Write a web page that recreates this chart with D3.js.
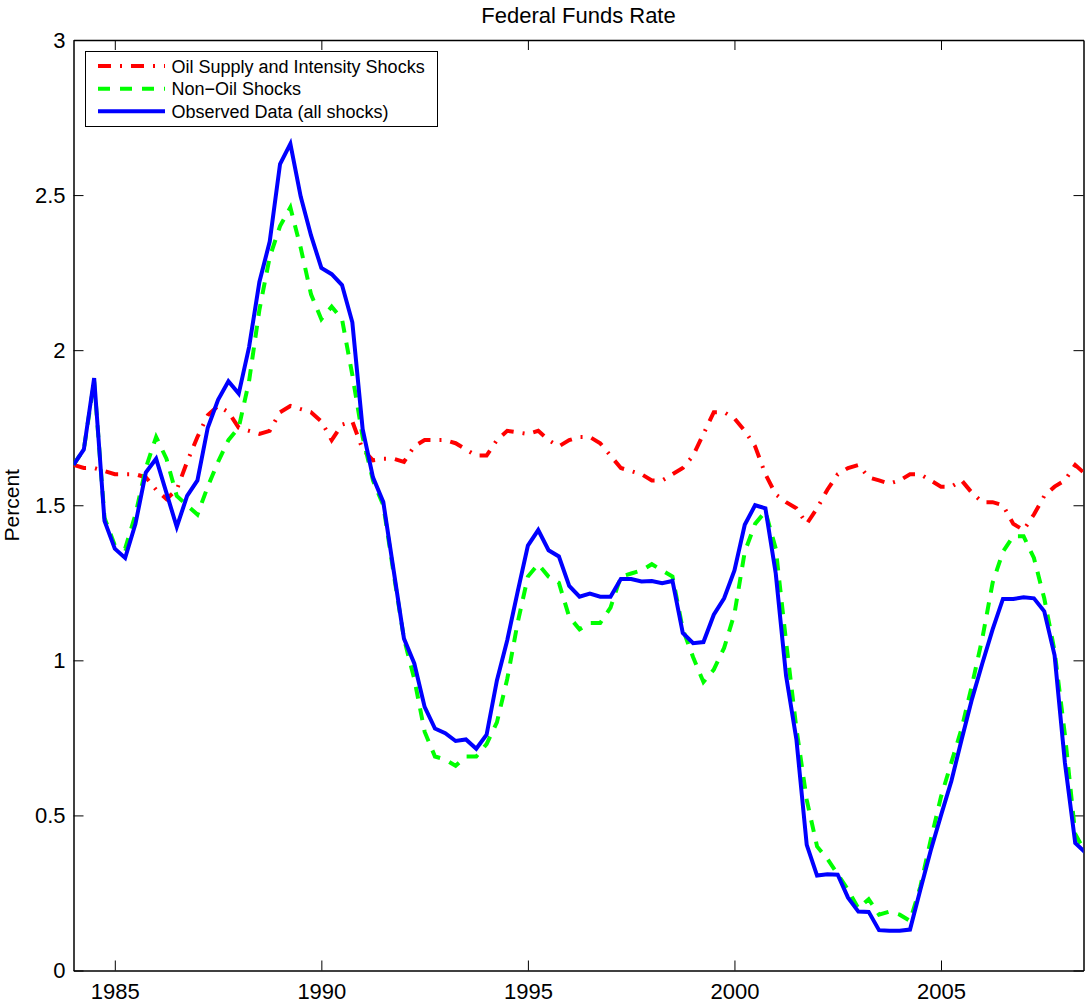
<!DOCTYPE html>
<html>
<head>
<meta charset="utf-8">
<script src="https://cdn.jsdelivr.net/npm/d3@7"></script>
<style>
  html, body { margin: 0; padding: 0; background: #fff; }
  svg { display: block; }
  text { font-family: "Liberation Sans", Arial, Helvetica, sans-serif; fill: #000; }
</style>
</head>
<body>
<svg id="chart" width="1086" height="1004"></svg>
<script>
// ---- Data (quarterly, starting 1984Q1) ----
const startYear = 1984;
const seriesNames = ["Oil Supply and Intensity Shocks", "Non\u2212Oil Shocks", "Observed Data (all shocks)"];
const oilShocks = [
  1.63,1.62,1.62,1.61, 1.60,1.60,1.60,1.59, 1.55,1.52,1.55,1.64, 1.72,1.79,1.82,1.80,
  1.75,1.74,1.73,1.74, 1.80,1.82,1.81,1.80, 1.77,1.71,1.76,1.77, 1.68,1.645,1.65,1.65,
  1.64,1.69,1.71,1.71, 1.71,1.70,1.68,1.66, 1.66,1.71,1.74,1.735, 1.73,1.74,1.71,1.69,
  1.71,1.72,1.72,1.70, 1.66,1.62,1.61,1.60, 1.58,1.58,1.60,1.62, 1.66,1.73,1.80,1.80,
  1.78,1.74,1.69,1.60, 1.535,1.51,1.49,1.44, 1.49,1.55,1.60,1.62, 1.63,1.59,1.58,1.57,
  1.58,1.60,1.60,1.58, 1.56,1.56,1.58,1.54, 1.51,1.51,1.50,1.44, 1.42,1.47,1.53,1.56,
  1.58,1.63,1.60
];
const nonOilShocks = [
  1.63,1.68,1.90,1.46, 1.37,1.36,1.47,1.62, 1.72,1.65,1.53,1.50, 1.47,1.56,1.64,1.71,
  1.75,1.90,2.13,2.30, 2.40,2.46,2.33,2.18, 2.10,2.14,2.10,1.92, 1.72,1.58,1.50,1.28,
  1.07,0.94,0.77,0.69, 0.68,0.66,0.69,0.69, 0.73,0.80,0.94,1.12, 1.27,1.31,1.27,1.25,
  1.14,1.10,1.12,1.12, 1.17,1.27,1.28,1.29, 1.31,1.29,1.27,1.10, 1.01,0.93,0.97,1.04,
  1.15,1.35,1.44,1.48, 1.36,1.06,0.78,0.55, 0.40,0.36,0.31,0.26, 0.20,0.23,0.18,0.19,
  0.18,0.16,0.27,0.42, 0.56,0.67,0.78,0.92, 1.07,1.25,1.35,1.40, 1.40,1.33,1.20,1.03,
  0.76,0.44,0.38
];
const observed = [
  1.63,1.68,1.91,1.45, 1.36,1.33,1.44,1.605, 1.65,1.54,1.43,1.53, 1.58,1.75,1.84,1.90,
  1.86,2.01,2.22,2.35, 2.60,2.665,2.495,2.37, 2.265,2.245,2.21,2.09, 1.745,1.59,1.51,1.29,
  1.07,0.99,0.85,0.78, 0.765,0.74,0.745,0.715, 0.76,0.935,1.065,1.22, 1.37,1.42,1.355,1.335,
  1.24,1.205,1.215,1.205, 1.205,1.262,1.262,1.254, 1.256,1.249,1.256,1.088, 1.055,1.059,1.147,1.20,
  1.29,1.437,1.50,1.49, 1.28,0.95,0.745,0.405, 0.306,0.31,0.309,0.235, 0.19,0.189,0.13,0.128,
  0.128,0.132,0.26,0.386, 0.50,0.61,0.745,0.875, 0.99,1.10,1.198,1.198, 1.203,1.20,1.158,1.016,
  0.67,0.411,0.38
];
const xTicks = [1985, 1990, 1995, 2000, 2005];
const yTicks = [0, 0.5, 1, 1.5, 2, 2.5, 3];
const quarters = d3.range(observed.length).map(i => startYear + i / 4);

// ---- Layout ----
const svg = d3.select("#chart");
const pLeft = 73.5, pRight = 1083.5, pTop = 40, pBottom = 970.5;
const x = d3.scaleLinear().domain([1984, 2008.45]).range([pLeft, pRight]);
const y = d3.scaleLinear().domain([0, 3]).range([pBottom, pTop]);

svg.append("defs").append("clipPath").attr("id", "plotclip")
  .append("rect").attr("x", pLeft).attr("y", pTop).attr("width", pRight - pLeft).attr("height", pBottom - pTop);

const fontTick = "22px";

// Axes
const gx = svg.append("g").attr("transform", `translate(0,${pBottom})`)
  .call(d3.axisBottom(x).tickValues(xTicks).tickFormat(d3.format("d")).tickSize(-10).tickSizeOuter(0).tickPadding(13));
const gxTop = svg.append("g").attr("transform", `translate(0,${pTop})`)
  .call(d3.axisTop(x).tickValues(xTicks).tickFormat("").tickSize(-10).tickSizeOuter(0));
const gy = svg.append("g").attr("transform", `translate(${pLeft},0)`)
  .call(d3.axisLeft(y).tickValues(yTicks).tickFormat(d3.format("~g")).tickSize(-10).tickSizeOuter(0).tickPadding(8));
const gyR = svg.append("g").attr("transform", `translate(${pRight},0)`)
  .call(d3.axisRight(y).tickValues(yTicks).tickFormat("").tickSize(-10).tickSizeOuter(0));

[gx, gxTop, gy, gyR].forEach(g => {
  g.select(".domain").attr("stroke", "#000").attr("stroke-width", 1.5);
  g.selectAll(".tick line").attr("stroke", "#000").attr("stroke-width", 1);
  g.selectAll(".tick text").attr("font-size", fontTick)
    .attr("font-family", '"Liberation Sans", Arial, Helvetica, sans-serif').attr("fill", "#000");
});

// Lines
const lineGen = vals => d3.line().x((d, i) => x(quarters[i])).y(d => y(d))(vals);
const plot = svg.append("g").attr("clip-path", "url(#plotclip)");

const styles = [
  { data: oilShocks, color: "#ff0000", dash: "13,9,2,9" },
  { data: nonOilShocks, color: "#00ff00", dash: "12,10" },
  { data: observed, color: "#0000ff", dash: null }
];
styles.forEach(s => {
  plot.append("path").attr("d", lineGen(s.data))
    .attr("fill", "none").attr("stroke", s.color).attr("stroke-width", 4)
    .attr("stroke-linejoin", "miter")
    .attr("stroke-dasharray", s.dash);
});

// Title
svg.append("text").attr("x", (pLeft + pRight) / 2).attr("y", 22.5)
  .attr("text-anchor", "middle").attr("font-size", "22px").text("Federal Funds Rate");

// Y label
svg.append("text").attr("transform", `translate(18.5,${(pTop + pBottom) / 2}) rotate(-90)`)
  .attr("text-anchor", "middle").attr("font-size", "21px").text("Percent");

// Legend
const leg = svg.append("g");
leg.append("rect").attr("x", 85.5).attr("y", 51.5).attr("width", 352).attr("height", 75)
  .attr("fill", "#fff").attr("stroke", "#000").attr("stroke-width", 1);
const rowY = [66, 88.7, 111.3];
styles.forEach((s, i) => {
  leg.append("line").attr("x1", 98).attr("x2", 165).attr("y1", rowY[i]).attr("y2", rowY[i])
    .attr("stroke", s.color).attr("stroke-width", 4).attr("stroke-dasharray", s.dash);
  leg.append("text").attr("x", 171.5).attr("y", rowY[i] + 6.5).attr("font-size", "18px").text(seriesNames[i]);
});
</script>
</body>
</html>
